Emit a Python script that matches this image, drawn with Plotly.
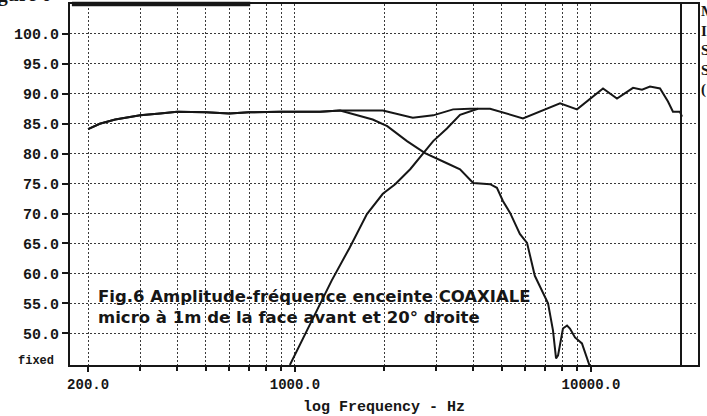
import plotly.graph_objects as go

# ---- measured response data (frequency in Hz, level in dB) ----
# low-frequency section shared by the system and the woofer-only response
low_freq = [200, 219, 247, 300, 350, 400, 500, 600, 700, 890, 1215, 1420]
low_level = [84.1, 85.0, 85.7, 86.4, 86.7, 87.0, 86.9, 86.7, 86.9, 87.0, 87.0, 87.2]

# complete system (woofer + tweeter), above the shared section
system_freq = [1980, 2500, 2930, 3420, 3900, 4560, 5890, 7860, 8970, 10980,
               12240, 13870, 14870, 15820, 17110, 18200, 18920, 19980, 20300]
system_level = [87.2, 86.0, 86.4, 87.4, 87.5, 87.5, 85.9, 88.4, 87.4, 90.9,
                89.2, 91.0, 90.7, 91.2, 90.9, 88.7, 87.0, 87.0, 86.2]

# woofer-only roll-off, above the shared section
woofer_freq = [1830, 2050, 2390, 2750, 3260, 3610, 4000, 4560, 4810, 5040, 5330,
               5750, 6080, 6460, 7160, 7440, 7620, 7740, 8040, 8300, 8490, 8830,
               9320, 9920]
woofer_level = [85.7, 84.6, 82.1, 80.1, 78.4, 77.4, 75.1, 74.9, 74.3, 72.1, 70.1,
                66.6, 65.1, 59.6, 55.0, 50.5, 45.8, 46.3, 50.8, 51.3, 50.8, 49.3,
                48.3, 44.4]

# tweeter-only response rising from the crossover
tweeter_freq = [961, 1120, 1330, 1530, 1750, 1980, 2180, 2450, 2710, 2930, 3260,
                3610, 4150]
tweeter_level = [44.7, 51.3, 58.8, 64.3, 69.9, 73.3, 74.9, 77.4, 80.1, 82.1, 84.2,
                 86.5, 87.5]

sweep_end = 20140          # end of the measurement sweep (Hz)

x_major = [200, 1000, 10000]
x_major_text = ["200.0", "1000.0", "10000.0"]
x_minor = [300, 400, 500, 600, 700, 800, 900,
           2000, 3000, 4000, 5000, 6000, 7000, 8000, 9000]
y_ticks = [50, 55, 60, 65, 70, 75, 80, 85, 90, 95, 100]

x_range_log = [2.2399, 4.3615]
y_range = [44.7, 105.0]

INK = "#161616"
GRID = "#3a3a3a"
GRID_DASH = "2px,2px"
MONO = "Liberation Mono"

fig = go.Figure()

curve_style = dict(color=INK, width=2)
fig.add_trace(go.Scatter(x=low_freq + system_freq, y=low_level + system_level,
                         mode="lines", line=curve_style, name="système"))
fig.add_trace(go.Scatter(x=low_freq + woofer_freq, y=low_level + woofer_level,
                         mode="lines", line=curve_style, name="boomer"))
fig.add_trace(go.Scatter(x=tweeter_freq, y=tweeter_level,
                         mode="lines", line=curve_style, name="tweeter"))
# vertical marker at the end of the sweep
fig.add_trace(go.Scatter(x=[sweep_end, sweep_end], y=y_range,
                         mode="lines", line=dict(color=INK, width=2),
                         name="fin"))

fig.update_layout(
    width=707, height=416,
    margin=dict(l=70, r=9, t=2, b=51),
    paper_bgcolor="white", plot_bgcolor="white",
    showlegend=False,
    font=dict(family=MONO, color=INK),
)

fig.update_xaxes(
    type="log", range=x_range_log,
    tickvals=x_major, ticktext=x_major_text,
    tickfont=dict(family=MONO, size=14, weight="bold"),
    ticks="outside", ticklen=5, tickwidth=2, tickcolor=INK,
    showline=True, linewidth=2, linecolor=INK, mirror=True,
    showgrid=True, gridcolor=GRID, gridwidth=1, griddash=GRID_DASH,
    minor=dict(tickvals=x_minor, showgrid=True, gridcolor=GRID, gridwidth=1,
               griddash=GRID_DASH, ticks="outside", ticklen=4, tickcolor=INK),
    zeroline=False,
    title=dict(text="log Frequency - Hz",
               font=dict(family=MONO, size=15, weight="bold"), standoff=9),
)

fig.update_yaxes(
    range=y_range, tickvals=y_ticks, tickformat=".1f",
    tickfont=dict(family=MONO, size=15, weight="bold"),
    ticks="outside", ticklen=6, tickwidth=2, tickcolor=INK,
    showline=True, linewidth=2, linecolor=INK, mirror=True,
    showgrid=True, gridcolor=GRID, gridwidth=1, griddash=GRID_DASH,
    zeroline=False,
)

# heavy bar along the top frame
fig.add_shape(type="rect", xref="paper", yref="paper",
              x0=0.003, x1=0.287, y0=0.994, y1=1.006,
              fillcolor=INK, line_width=0)

fig.add_annotation(
    text="Fig.6 Amplitude-fréquence enceinte COAXIALE<br>"
         "micro à 1m de la face avant et 20° droite",
    xref="paper", yref="paper", x=0.041, y=0.161,
    xanchor="left", yanchor="middle", align="left", showarrow=False,
    font=dict(family="DejaVu Sans", size=16.5, weight="bold", color=INK),
)
fig.add_annotation(text="fixed", xref="paper", yref="paper",
                   x=-0.023, y=0.011, xanchor="right", yanchor="middle",
                   showarrow=False,
                   font=dict(family=MONO, size=12, weight="bold", color=INK))
fig.add_annotation(text="Figure 6", xref="paper", yref="paper",
                   x=-0.027, y=0.988, xanchor="right", yanchor="bottom",
                   showarrow=False,
                   font=dict(family="Liberation Serif", size=20, weight="bold",
                             color=INK))
fig.add_annotation(text="M<br>I<br>S<br>S<br>(", xref="paper", yref="paper",
                   x=1.0016, y=0.87, xanchor="left", yanchor="middle",
                   align="left", showarrow=False,
                   font=dict(family="Liberation Serif", size=15, weight="bold",
                             color=INK))

fig.write_html("out.html")
